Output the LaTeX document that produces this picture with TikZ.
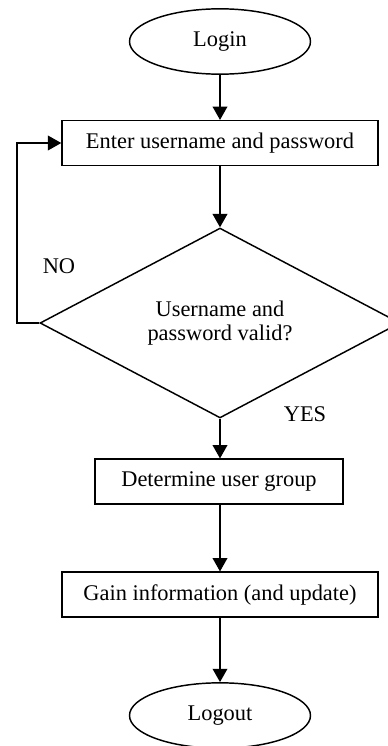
\documentclass[tikz,border=0pt]{standalone}
\usepackage{fontspec}
\setmainfont{Liberation Serif}
\usetikzlibrary{shapes.geometric,arrows.meta}

\tikzset{
	terminal/.style={draw, ellipse, line width=1.1pt, inner sep=0pt, minimum width=135.75pt, minimum height=49pt},
	process/.style={draw, rectangle, line width=1.1pt, inner sep=0pt, minimum height=33.5pt},
	decision/.style={draw, diamond, line width=1.1pt, inner sep=0pt, align=center, minimum width=270pt, minimum height=100.5pt},
	flow/.style={line width=1.1pt, -{Triangle[length=10pt,width=11pt]}}
}

\begin{document}
\begin{tikzpicture}[x=0.75pt, y=-0.75pt, font=\fontsize{16.8pt}{18.5pt}\selectfont]
		\useasboundingbox (0,0) rectangle (388,746);
		% shapes
		\node[terminal] (login) at (220,41.5) {Login};
		\node[process, minimum width=237pt] (enter) at (220,143) {Enter username and password};
		\node[decision] (check) at (220,323) {Username and\\password valid?};
		\node[process, minimum width=186pt] (group) at (219,481.5) {Determine user group};
		\node[process, minimum width=237pt] (gain) at (220,594.5) {Gain information (and update)};
		\node[terminal] (logout) at (220,715.5) {Logout};
		% labels
		\node (no) at (59,266) {NO};
		\node (yes) at (305,414) {YES};
		% connectors
		\coordinate (loop) at (17,323);
		\draw[flow] (login) -- (enter);
		\draw[flow] (enter) -- (check);
		\draw[flow] (check.south) -- (check.south |- group.north);
		\draw[flow] (group.south -| gain.north) -- (gain);
		\draw[flow] (gain) -- (logout);
		\draw[flow] (check.west) -- (loop) |- (enter.west);
	\end{tikzpicture}
\end{document}
